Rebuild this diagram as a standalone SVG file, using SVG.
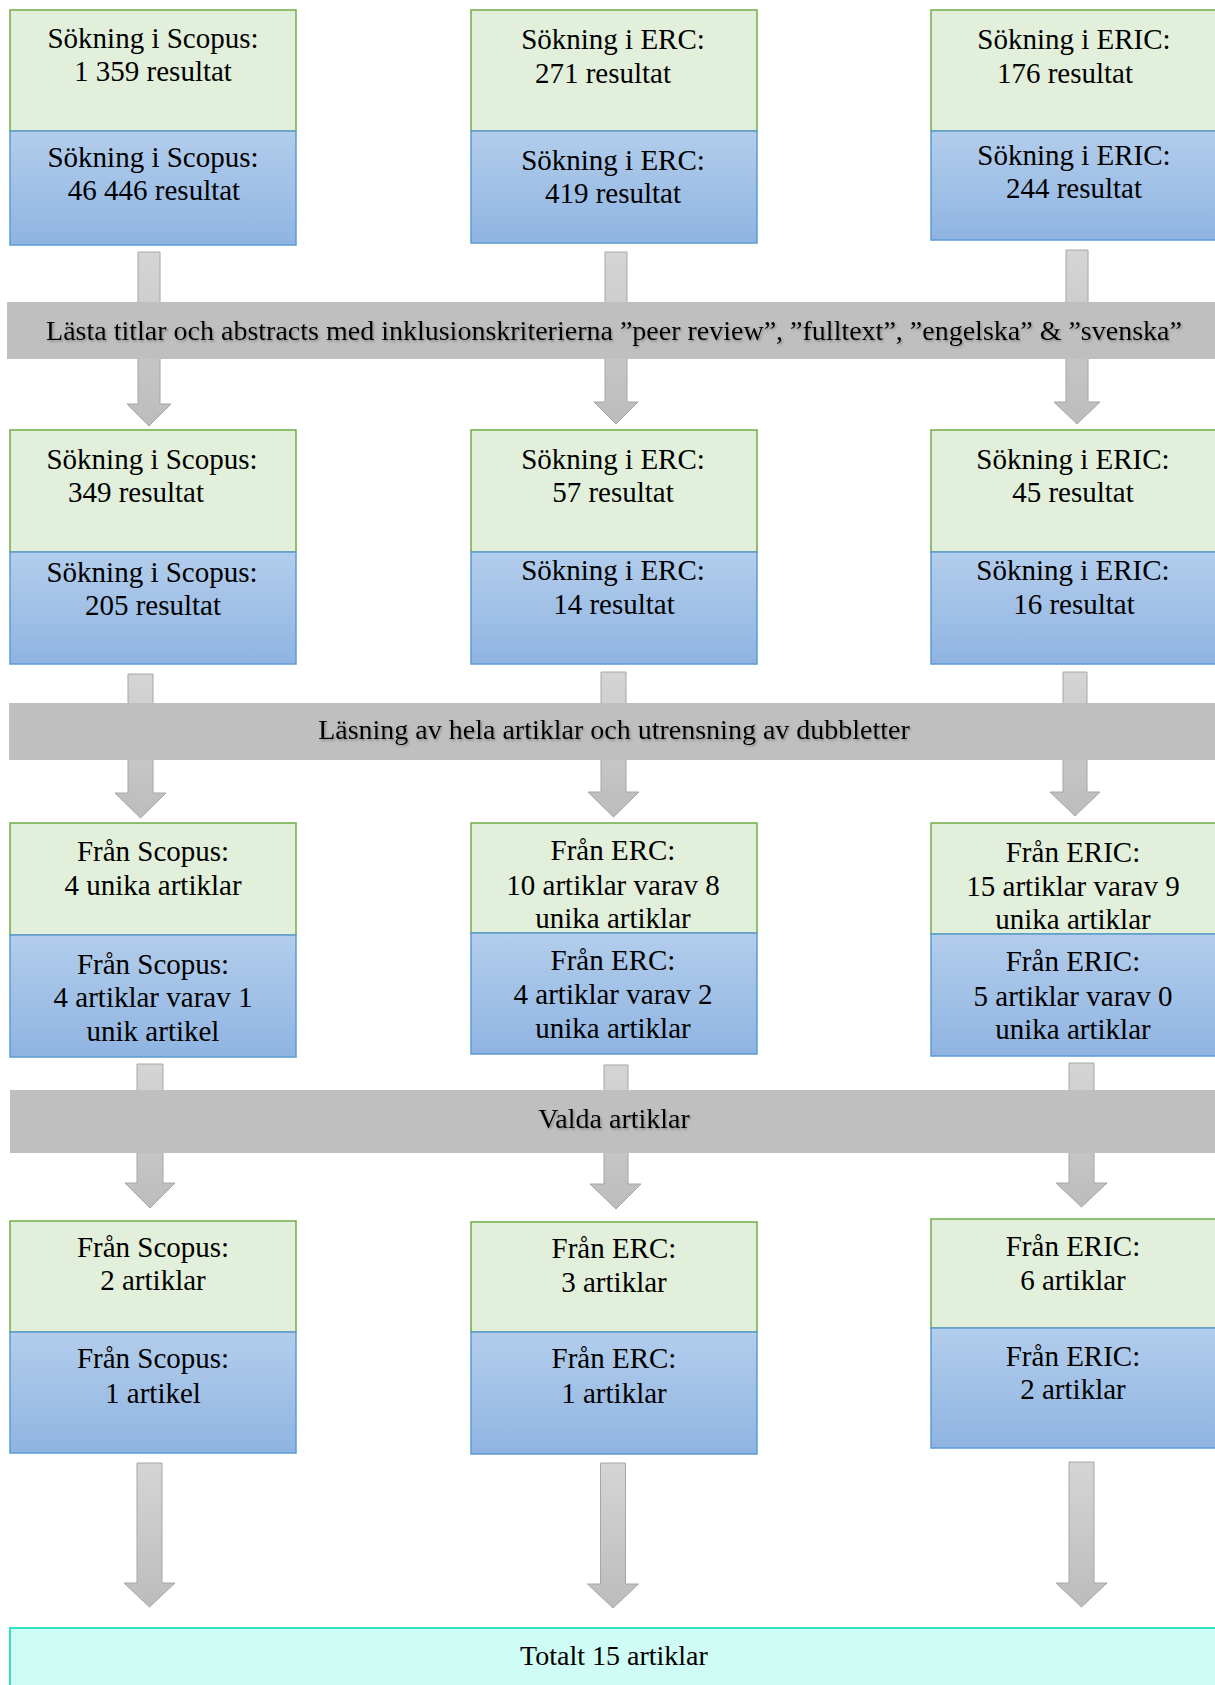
<svg xmlns="http://www.w3.org/2000/svg" width="1215" height="1685" viewBox="0 0 1215 1685">
<defs>
<linearGradient id="blueGrad" x1="0" y1="0" x2="0" y2="1">
<stop offset="0" stop-color="#b3cdeb"/>
<stop offset="1" stop-color="#8fb4e2"/>
</linearGradient>
<linearGradient id="arrowGrad" x1="0" y1="0" x2="0" y2="1">
<stop offset="0" stop-color="#d5d5d5"/>
<stop offset="1" stop-color="#bcbcbc"/>
</linearGradient>
<filter id="shadow" x="-5%" y="-30%" width="110%" height="160%">
<feDropShadow dx="1.2" dy="1.5" stdDeviation="0.8" flood-color="#555" flood-opacity="0.55"/>
</filter>
</defs>
<style>
.t{font-family:"Liberation Serif","Times New Roman",serif;font-size:29px;fill:#000;text-anchor:middle}
.bt{font-family:"Liberation Serif","Times New Roman",serif;font-size:28px;fill:#000;text-anchor:middle}
.sh{filter:url(#shadow)}
.green{fill:#e2efda;stroke:#70ad47;stroke-width:1.5}
.blue{fill:url(#blueGrad);stroke:#5b9bd5;stroke-width:1.5}
.band{fill:#bfbfbf}
.arrow{fill:url(#arrowGrad);stroke:#a6a6a6;stroke-width:1}
.final{fill:#cffcf4;stroke:#30e2c2;stroke-width:2}
</style>
<rect width="1215" height="1685" fill="#fff"/>

<g id="connectors">
<path class="arrow" d="M138,252 H160 V404 H171 L149,426 L127,404 H138 Z"/>
<path class="arrow" d="M605,252 H627 V402 H638 L616,424 L594,402 H605 Z"/>
<path class="arrow" d="M1066,250 H1088 V402 H1100 L1077,424 L1054,402 H1066 Z"/>
<path class="arrow" d="M128,674 H153 V793 H166 L140.5,818 L115,793 H128 Z"/>
<path class="arrow" d="M601,672 H626 V792 H639 L613.5,817 L588,792 H601 Z"/>
<path class="arrow" d="M1063,672 H1087 V792 H1100 L1075,816 L1050,792 H1063 Z"/>
<path class="arrow" d="M137,1064 H163 V1183 H175 L150,1208 L125,1183 H137 Z"/>
<path class="arrow" d="M604,1065 H628 V1184 H641 L616,1209 L590,1184 H604 Z"/>
<path class="arrow" d="M1069,1063 H1094 V1183 H1107 L1081.5,1207 L1056,1183 H1069 Z"/>
<path class="arrow" d="M137,1463 H162 V1583 H175 L149.5,1607 L124,1583 H137 Z"/>
<path class="arrow" d="M600.5,1463 H625.5 V1584 H638.5 L613,1608 L587.5,1584 H600.5 Z"/>
<path class="arrow" d="M1069,1462 H1094 V1583 H1107 L1081.5,1607 L1056,1583 H1069 Z"/>
</g>

<g id="band1">
<rect class="band" x="7" y="302" width="1215" height="57"/>
<text class="bt sh" x="614" y="340">Lästa titlar och abstracts med inklusionskriterierna ”peer review”, ”fulltext”, ”engelska” &amp; ”svenska”</text>
</g>
<g id="band2">
<rect class="band" x="9" y="703" width="1215" height="57"/>
<text class="bt sh" x="614" y="739">Läsning av hela artiklar och utrensning av dubbletter</text>
</g>
<g id="band3">
<rect class="band" x="10" y="1090" width="1215" height="63"/>
<text class="bt sh" x="614" y="1128">Valda artiklar</text>
</g>

<!-- Row 1 -->
<g id="r1c1g"><rect class="green" x="10" y="10" width="286" height="121"/>
<text class="t" x="153" y="48">Sökning i Scopus:</text><text class="t" x="153" y="81">1 359 resultat</text></g>
<g id="r1c1b"><rect class="blue" x="10" y="131" width="286" height="114"/>
<text class="t" x="153" y="167">Sökning i Scopus:</text><text class="t" x="154" y="200">46 446 resultat</text></g>
<g id="r1c2g"><rect class="green" x="471" y="10" width="286" height="121"/>
<text class="t" x="613" y="49">Sökning i ERC:</text><text class="t" x="603" y="83">271 resultat</text></g>
<g id="r1c2b"><rect class="blue" x="471" y="131" width="286" height="112"/>
<text class="t" x="613" y="170">Sökning i ERC:</text><text class="t" x="613" y="203">419 resultat</text></g>
<g id="r1c3g"><rect class="green" x="931" y="10" width="286" height="121"/>
<text class="t" x="1074" y="49">Sökning i ERIC:</text><text class="t" x="1065" y="83">176 resultat</text></g>
<g id="r1c3b"><rect class="blue" x="931" y="131" width="286" height="109"/>
<text class="t" x="1074" y="165">Sökning i ERIC:</text><text class="t" x="1074" y="198">244 resultat</text></g>

<!-- Row 2 -->
<g id="r2c1g"><rect class="green" x="10" y="430" width="286" height="122"/>
<text class="t" x="152" y="469">Sökning i Scopus:</text><text class="t" x="136" y="502">349 resultat</text></g>
<g id="r2c1b"><rect class="blue" x="10" y="552" width="286" height="112"/>
<text class="t" x="152" y="582">Sökning i Scopus:</text><text class="t" x="153" y="615">205 resultat</text></g>
<g id="r2c2g"><rect class="green" x="471" y="430" width="286" height="122"/>
<text class="t" x="613" y="469">Sökning i ERC:</text><text class="t" x="613" y="502">57 resultat</text></g>
<g id="r2c2b"><rect class="blue" x="471" y="552" width="286" height="112"/>
<text class="t" x="613" y="580">Sökning i ERC:</text><text class="t" x="614" y="614">14 resultat</text></g>
<g id="r2c3g"><rect class="green" x="931" y="430" width="286" height="122"/>
<text class="t" x="1073" y="469">Sökning i ERIC:</text><text class="t" x="1073" y="502">45 resultat</text></g>
<g id="r2c3b"><rect class="blue" x="931" y="552" width="286" height="112"/>
<text class="t" x="1073" y="580">Sökning i ERIC:</text><text class="t" x="1074" y="614">16 resultat</text></g>

<!-- Row 3 -->
<g id="r3c1g"><rect class="green" x="10" y="823" width="286" height="112"/>
<text class="t" x="153" y="861">Från Scopus:</text><text class="t" x="153" y="895">4 unika artiklar</text></g>
<g id="r3c1b"><rect class="blue" x="10" y="935" width="286" height="122"/>
<text class="t" x="153" y="974">Från Scopus:</text><text class="t" x="153" y="1007">4 artiklar varav 1</text><text class="t" x="153" y="1041">unik artikel</text></g>
<g id="r3c2g"><rect class="green" x="471" y="823" width="286" height="110"/>
<text class="t" x="613" y="860">Från ERC:</text><text class="t" x="613" y="895">10 artiklar varav 8</text><text class="t" x="613" y="928">unika artiklar</text></g>
<g id="r3c2b"><rect class="blue" x="471" y="933" width="286" height="121"/>
<text class="t" x="613" y="970">Från ERC:</text><text class="t" x="613" y="1004">4 artiklar varav 2</text><text class="t" x="613" y="1038">unika artiklar</text></g>
<g id="r3c3g"><rect class="green" x="931" y="823" width="286" height="111"/>
<text class="t" x="1073" y="862">Från ERIC:</text><text class="t" x="1073" y="896">15 artiklar varav 9</text><text class="t" x="1073" y="929">unika artiklar</text></g>
<g id="r3c3b"><rect class="blue" x="931" y="934" width="286" height="122"/>
<text class="t" x="1073" y="971">Från ERIC:</text><text class="t" x="1073" y="1006">5 artiklar varav 0</text><text class="t" x="1073" y="1039">unika artiklar</text></g>

<!-- Row 4 -->
<g id="r4c1g"><rect class="green" x="10" y="1221" width="286" height="111"/>
<text class="t" x="153" y="1257">Från Scopus:</text><text class="t" x="153" y="1290">2 artiklar</text></g>
<g id="r4c1b"><rect class="blue" x="10" y="1332" width="286" height="121"/>
<text class="t" x="153" y="1368">Från Scopus:</text><text class="t" x="153" y="1403">1 artikel</text></g>
<g id="r4c2g"><rect class="green" x="471" y="1222" width="286" height="110"/>
<text class="t" x="614" y="1258">Från ERC:</text><text class="t" x="614" y="1292">3 artiklar</text></g>
<g id="r4c2b"><rect class="blue" x="471" y="1332" width="286" height="122"/>
<text class="t" x="614" y="1368">Från ERC:</text><text class="t" x="614" y="1403">1 artiklar</text></g>
<g id="r4c3g"><rect class="green" x="931" y="1219" width="286" height="109"/>
<text class="t" x="1073" y="1256">Från ERIC:</text><text class="t" x="1073" y="1290">6 artiklar</text></g>
<g id="r4c3b"><rect class="blue" x="931" y="1328" width="286" height="120"/>
<text class="t" x="1073" y="1366">Från ERIC:</text><text class="t" x="1073" y="1399">2 artiklar</text></g>

<g id="total">
<rect class="final" x="10" y="1628" width="1215" height="80"/>
<text class="bt" x="614" y="1665">Totalt 15 artiklar</text>
</g>
</svg>
